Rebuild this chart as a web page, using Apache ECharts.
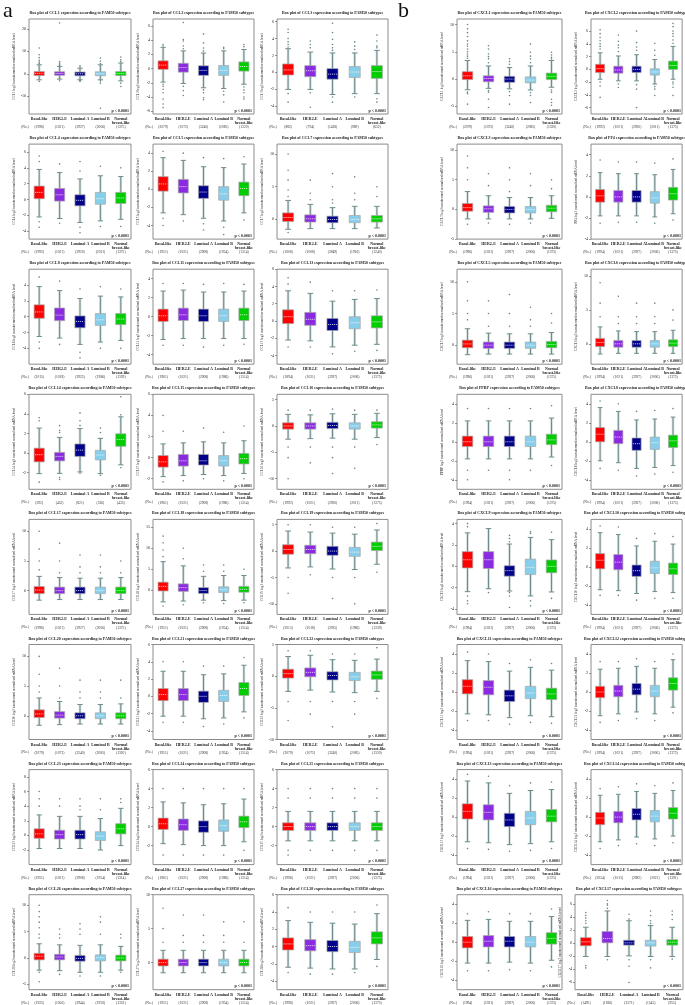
<!DOCTYPE html>
<html>
<head>
<meta charset="utf-8">
<script src="https://cdn.jsdelivr.net/npm/echarts@6/dist/echarts.min.js"></script>
<style>
  html, body { margin: 0; padding: 0; background: #fff; }
  #chart { width: 685px; height: 1005px; }
</style>
</head>
<body>
<div id="chart"></div>
<script>
// PAM50 分型
const subtypes = ['Basal-like', 'HER2-E', 'Luminal A', 'Luminal B', 'Normal\nbreast-like'];
const subtypeColors = ['#ff0000', '#8a2be2', '#00008b', '#87ceeb', '#00cd00'];

// 基因（a: 0-23, b: 24-39）
const genes = [
  'CCL1', 'CCL2', 'CCL3', 'CCL4', 'CCL5', 'CCL7', 'CCL8', 'CCL11', 'CCL13', 'CCL14', 'CCL15', 'CCL16',
  'CCL17', 'CCL18', 'CCL19', 'CCL20', 'CCL21', 'CCL22', 'CCL23', 'CCL24', 'CCL25', 'CCL26', 'CCL27', 'CCL28',
  'CXCL1', 'CXCL2', 'CXCL3', 'PF4', 'CXCL5', 'CXCL6', 'PPBP', 'CXCL8',
  'CXCL9', 'CXCL10', 'CXCL11', 'CXCL12', 'CXCL13', 'CXCL14', 'CXCL16', 'CXCL17'
];

// y 轴范围与刻度
const yRanges = [
  [-18, 24.5], [-6.4, 7], [-4.9, 6.3], [-5, 7], [-5.5, 5], [-3, 11.5], [-6, 6], [-5, 5], [-5, 6], [-3.7, 6], [-3, 6], [-12, 6],
  [-4, 12], [-5.8, 16.9], [-12, 6], [-4, 12], [-5, 6], [-10, 5], [-4, 9], [-4, 6], [-4, 6], [-6, 12], [-4, 10], [-5, 6],
  [-6.4, 11], [-7, 7.9], [-5, 11], [-4, 5], [-3, 12], [-3, 11], [-5, 5], [-5, 5],
  [-4.5, 4.4], [-5, 5], [-5, 5], [-5, 5], [-5, 5], [-5, 5], [-5, 5], [-7.2, 7.4]
];
const yTicks = [
  [-10, 0, 10, 20], [-6, -4, -2, 0, 2, 4, 6], [-4, -2, 0, 2, 4, 6], [-4, -2, 0, 2, 4, 6], [-4, -2, 0, 2, 4], [0, 5, 10],
  [-4, -2, 0, 2, 4], [-4, -2, 0, 2, 4], [-4, -2, 0, 2, 4, 6], [-2, 0, 2, 4, 6], [-2, 0, 2, 4, 6], [-10, -5, 0, 5],
  [0, 5, 10], [0, 5, 10, 15], [-10, -5, 0, 5], [0, 5, 10], [-4, -2, 0, 2, 4, 6], [-10, -5, 0, 5],
  [-2, 0, 2, 4, 6, 8], [-2, 0, 2, 4, 6], [-2, 0, 2, 4, 6], [-5, 0, 5, 10], [0, 5, 10], [-4, -2, 0, 2, 4, 6],
  [-5, 0, 5, 10], [-6, -4, -2, 0, 2, 4, 6], [-5, 0, 5, 10], [-4, -2, 0, 2, 4], [0, 5, 10], [0, 5, 10], [-4, -2, 0, 2, 4], [-4, -2, 0, 2, 4],
  [-4, -2, 0, 2, 4], [-4, -2, 0, 2, 4], [-4, -2, 0, 2, 4], [-4, -2, 0, 2, 4], [-4, -2, 0, 2, 4], [-4, -2, 0, 2, 4], [-4, -2, 0, 2, 4], [-6, -4, -2, 0, 2, 4, 6]
];

// 箱线统计 [下须, Q1, 中位数, Q3, 上须]
const boxStats = [
  [[-2.7, -0.8, 0.2, 1.0, 4], [-2.4, -0.7, 0.1, 0.9, 3.3], [-2.7, -0.9, 0, 0.8, 2.5], [-2.7, -0.9, 0, 0.9, 4], [-3.2, -0.8, 0.1, 1.0, 4.8]],
  [[-1.9, -0.1, 0.5, 1.1, 3.0], [-2.1, -0.5, 0.15, 0.75, 2.5], [-2.7, -0.95, -0.25, 0.4, 2.2], [-2.8, -0.95, -0.25, 0.45, 2.5], [-2.2, -0.35, 0.3, 0.95, 2.7]],
  [[-2.0, -0.3, 0.3, 1.0, 2.8], [-2.0, -0.5, 0.2, 0.8, 2.4], [-2.6, -0.8, -0.2, 0.45, 2.3], [-2.5, -0.6, 0.05, 0.7, 2.3], [-2.5, -0.7, 0.1, 0.8, 2.6]],
  [[-2.2, 0.1, 0.9, 1.7, 3.8], [-2.4, -0.2, 0.6, 1.4, 3.4], [-2.9, -0.8, -0.1, 0.6, 2.6], [-2.7, -0.6, 0.1, 0.9, 3.0], [-2.5, -0.5, 0.2, 0.9, 2.9]],
  [[-2.6, -0.2, 0.6, 1.4, 3.5], [-2.8, -0.4, 0.3, 1.1, 3.2], [-3.2, -1.0, -0.3, 0.4, 2.5], [-3.5, -1.2, -0.5, 0.3, 2.4], [-2.6, -0.7, 0.1, 0.8, 2.8]],
  [[-1.5, -0.3, 0.3, 1.0, 2.9], [-1.4, -0.4, 0.1, 0.7, 2.3], [-1.4, -0.5, 0, 0.5, 1.8], [-1.4, -0.5, 0, 0.6, 2.0], [-1.3, -0.4, 0.1, 0.6, 2.0]],
  [[-2.5, -0.2, 0.6, 1.5, 3.8], [-2.7, -0.5, 0.2, 1.1, 3.3], [-3.5, -1.4, -0.6, 0.1, 2.3], [-3.2, -1.1, -0.4, 0.4, 2.6], [-3.0, -1.0, -0.3, 0.4, 2.5]],
  [[-2.4, -0.5, 0.1, 0.8, 2.7], [-2.3, -0.4, 0.2, 0.9, 2.8], [-2.3, -0.5, 0.1, 0.8, 2.6], [-2.3, -0.5, 0.1, 0.8, 2.6], [-2.3, -0.4, 0.2, 0.9, 2.7]],
  [[-2.2, -0.3, 0.5, 1.3, 3.5], [-2.3, -0.5, 0.2, 1.0, 3.2], [-3.0, -1.1, -0.4, 0.3, 2.3], [-2.8, -0.9, -0.2, 0.5, 2.5], [-2.7, -0.8, -0.1, 0.6, 2.6]],
  [[-2.1, -0.9, -0.17, 0.5, 2.55], [-2.07, -0.8, -0.34, 0.07, 1.6], [-1.93, -0.34, 0.3, 0.93, 2.5], [-2.1, -0.7, -0.2, 0.28, 1.5], [-1.2, 0.69, 1.38, 1.97, 3.7]],
  [[-1.8, -0.9, -0.4, 0.2, 1.3], [-1.7, -0.8, -0.3, 0.3, 1.4], [-1.6, -0.7, -0.3, 0.3, 1.5], [-1.7, -0.8, -0.3, 0.2, 1.4], [-1.5, -0.6, -0.1, 0.4, 1.6]],
  [[-2.5, -0.6, 0, 0.6, 2.2], [-2.4, -0.6, 0, 0.6, 2.1], [-2.3, -0.5, 0.1, 0.7, 2.3], [-2.5, -0.6, 0, 0.6, 2.2], [-2.2, -0.4, 0.2, 0.8, 2.4]],
  [[-1.6, -0.5, 0.1, 0.7, 2.4], [-1.5, -0.5, 0, 0.6, 2.2], [-1.5, -0.5, 0, 0.6, 2.1], [-1.5, -0.5, 0, 0.6, 2.1], [-1.5, -0.5, 0, 0.6, 2.2]],
  [[-2.8, -0.2, 0.9, 1.9, 6.8], [-2.6, -0.3, 0.6, 1.5, 5.8], [-2.4, -0.8, -0.1, 0.6, 3.3], [-2.5, -0.6, 0.1, 0.8, 3.5], [-2.4, -0.5, 0.2, 0.9, 3.5]],
  [[-3.2, -0.6, 0.3, 1.2, 3.8], [-3.0, -0.5, 0.3, 1.1, 3.6], [-3.4, -0.8, 0, 0.9, 3.4], [-3.5, -1.0, -0.2, 0.7, 3.2], [-2.5, 0.1, 0.9, 1.7, 4.0]],
  [[-1.6, -0.3, 0.3, 1.0, 3.0], [-1.5, -0.4, 0.1, 0.7, 2.4], [-1.4, -0.5, 0, 0.5, 1.9], [-1.4, -0.5, 0, 0.5, 1.9], [-1.4, -0.5, 0, 0.5, 2.0]],
  [[-2.3, -0.5, 0.2, 0.9, 2.9], [-2.3, -0.5, 0.2, 0.9, 2.9], [-2.6, -0.7, 0, 0.6, 2.5], [-2.5, -0.6, 0.1, 0.7, 2.6], [-1.8, 0.1, 0.9, 1.6, 3.6]],
  [[-2.4, -0.3, 0.4, 1.1, 3.1], [-2.2, -0.1, 0.6, 1.3, 3.3], [-2.5, -0.6, 0.1, 0.7, 2.6], [-2.6, -0.7, -0.1, 0.6, 2.5], [-2.4, -0.5, 0.2, 0.8, 2.7]],
  [[-1.8, -0.4, 0.2, 0.9, 2.8], [-1.8, -0.5, 0.1, 0.7, 2.6], [-1.8, -0.5, 0.1, 0.7, 2.6], [-2.0, -0.7, -0.1, 0.5, 2.3], [-1.4, 0.2, 0.9, 1.6, 3.7]],
  [[-1.8, -0.3, 0.3, 0.9, 2.6], [-1.9, -0.4, 0.2, 0.8, 2.5], [-2.0, -0.6, 0, 0.6, 2.3], [-2.0, -0.5, 0.1, 0.7, 2.4], [-1.6, -0.1, 0.5, 1.1, 2.9]],
  [[-1.5, -0.4, 0, 0.4, 1.6], [-1.5, -0.4, 0, 0.4, 1.6], [-1.5, -0.4, 0, 0.4, 1.6], [-1.5, -0.4, 0, 0.4, 1.6], [-1.5, -0.4, 0, 0.4, 1.6]],
  [[-2.3, -0.35, 0.35, 0.9, 2.7], [-2.4, -0.35, 0.2, 0.7, 2.5], [-2.7, -0.6, -0.07, 0.5, 2.4], [-2.7, -0.55, 0.07, 0.6, 2.5], [-2.3, -0.55, 0, 0.55, 2.2]],
  [[-1.5, -0.5, 0, 0.5, 1.8], [-1.5, -0.5, 0, 0.5, 1.8], [-1.5, -0.5, 0, 0.5, 1.8], [-1.5, -0.5, 0, 0.5, 1.8], [-1.5, -0.5, 0, 0.5, 1.8]],
  [[-2.4, -0.4, 0.3, 1.0, 3.0], [-2.5, -0.5, 0.1, 0.8, 2.8], [-2.6, -0.6, 0, 0.7, 2.7], [-2.6, -0.7, -0.1, 0.6, 2.6], [-1.5, 0.3, 1.0, 1.7, 3.8]],
  [[-1.95, -0.1, 0.6, 1.35, 3.4], [-1.7, -0.5, 0.1, 0.6, 2.4], [-1.8, -0.6, 0, 0.5, 2.1], [-2.0, -0.7, -0.2, 0.4, 2.4], [-1.5, -0.1, 0.5, 1.1, 3.4]],
  [[-1.55, -0.5, 0.1, 0.8, 2.6], [-1.8, -0.6, -0.1, 0.5, 2.1], [-1.8, -0.5, 0, 0.5, 2.3], [-2.3, -0.9, -0.4, 0.1, 1.55], [-1.55, 0, 0.6, 1.3, 3.6]],
  [[-1.6, -0.3, 0.3, 1.0, 3.0], [-1.6, -0.5, 0.1, 0.6, 2.3], [-1.6, -0.6, 0, 0.5, 2.0], [-1.6, -0.6, 0, 0.5, 2.0], [-1.5, -0.4, 0.2, 0.7, 2.3]],
  [[-1.8, -0.5, 0.1, 0.7, 2.3], [-1.8, -0.5, 0, 0.6, 2.2], [-1.8, -0.5, 0, 0.6, 2.2], [-1.9, -0.6, -0.1, 0.5, 2.1], [-1.6, -0.3, 0.3, 0.9, 2.6]],
  [[-1.5, -0.4, 0.2, 0.8, 2.6], [-1.4, -0.5, 0, 0.5, 1.9], [-1.4, -0.5, 0, 0.5, 1.8], [-1.4, -0.5, 0, 0.5, 1.8], [-1.4, -0.4, 0.1, 0.6, 2.0]],
  [[-1.5, -0.4, 0.2, 0.8, 2.5], [-1.4, -0.5, 0, 0.5, 1.9], [-1.4, -0.5, 0, 0.5, 1.8], [-1.4, -0.5, 0, 0.5, 1.8], [-1.4, -0.4, 0.1, 0.6, 2.0]],
  [[-1.8, -0.5, 0, 0.6, 2.2], [-1.8, -0.5, 0, 0.6, 2.2], [-1.8, -0.5, 0, 0.6, 2.2], [-1.8, -0.5, 0, 0.6, 2.2], [-1.6, -0.3, 0.2, 0.8, 2.5]],
  [[-2.0, 0, 0.8, 1.5, 3.6], [-2.2, -0.2, 0.5, 1.2, 3.2], [-2.8, -0.9, -0.2, 0.4, 2.3], [-2.7, -0.8, -0.1, 0.5, 2.4], [-2.5, -0.6, 0.1, 0.7, 2.6]],
  [[-2.37, -0.15, 0.62, 1.38, 3.14], [-2.1, -0.2, 0.62, 1.38, 3.54], [-2.31, -0.92, -0.4, 0.06, 2.09], [-2.77, -0.77, -0.09, 0.68, 2.71], [-2.4, -0.6, 0, 0.6, 2.5]],
  [[-2.4, -0.2, 0.7, 1.4, 3.6], [-2.5, -0.3, 0.5, 1.3, 3.4], [-2.8, -1.0, -0.4, 0.2, 2.2], [-2.6, -0.7, -0.1, 0.6, 2.7], [-2.7, -0.8, -0.2, 0.4, 2.4]],
  [[-2.3, -0.2, 0.6, 1.3, 3.3], [-2.4, -0.3, 0.5, 1.2, 3.2], [-2.7, -1.0, -0.4, 0.2, 2.2], [-2.5, -0.7, -0.1, 0.6, 2.6], [-2.6, -0.8, -0.2, 0.4, 2.3]],
  [[-2.5, -0.6, 0, 0.6, 2.4], [-2.3, -0.5, 0.1, 0.7, 2.5], [-2.1, -0.3, 0.3, 0.9, 2.7], [-2.3, -0.5, 0.1, 0.7, 2.5], [-1.6, 0.2, 0.9, 1.5, 3.4]],
  [[-2.6, -0.2, 0.6, 1.4, 3.8], [-2.7, -0.3, 0.5, 1.3, 3.6], [-2.9, -1.0, -0.3, 0.4, 2.5], [-2.8, -0.8, -0.1, 0.6, 2.8], [-2.6, -0.5, 0.1, 0.8, 2.9]],
  [[-2.6, -0.8, -0.1, 0.5, 2.3], [-2.4, -0.6, 0, 0.6, 2.4], [-2.1, -0.3, 0.3, 0.9, 2.7], [-2.3, -0.5, 0.1, 0.7, 2.5], [-2.0, -0.2, 0.4, 1.0, 2.8]],
  [[-2.2, -0.6, 0, 0.6, 2.3], [-2.2, -0.5, 0.1, 0.7, 2.4], [-2.1, -0.5, 0.1, 0.6, 2.2], [-2.2, -0.5, 0, 0.6, 2.2], [-1.9, -0.2, 0.4, 1.0, 2.7]],
  [[-2.1, -0.45, 0.15, 0.8, 2.4], [-2.1, 0, 0.65, 1.75, 4.9], [-2.0, -0.35, 0, 0.4, 3.4], [-2.1, -0.5, 0, 0.4, 2.65], [-2.1, -0.35, 0.1, 0.5, 2.4]]
];

// 离群点
const outliers = [
  [[11.5, 8.5, 7.2, 6, 5.2, 4.6, -3.4], [22.7, 5.5, 4.8, 4.3, 3.8, -3.1], [3.6, 3.0, -3.4, -3.0], [7, 5.6, 4.6, -3.2, -4.2, -15.4], [7.5, 6.2, 5.4, -4.2, -5.7]],
  [[3.4, 3.2, -2.2, -2.5, -2.9, -3.4, -4.3, -5.0, -5.5], [6.5, 4.1, 3.9, 3.2, 2.8, -2.5, -3.1, -3.8], [4.9, 3.6, 2.9, 2.5, -3.0, -3.4, -4.1, -4.4], [3.0, 2.8, -3.2, -3.7, -4.7], [3.4, 3.1, -2.6, -3.0, -3.4, -4.0, -4.3]],
  [[5.1, 4.7, 4.0, 3.6, 3.3, 3.0, -2.5, -3.5], [3.7, 3.3, 2.9, -2.4, -4.1], [5.8, 4.7, 3.9, 3.3, 2.9, 2.6, -2.9, -3.5], [3.6, 3.1, 2.7, -2.9], [4.4, 3.7, 3.1, 2.9, -3.1, -3.5]],
  [[5.5, 4.8, -2.8, -3.5], [4.5, -3.0], [4.8, 3.6, -3.5, -4.2], [4.2, -3.4], [4.0, -3.4]],
  [[4.2, -3.2, -4], [4, -3.5], [3.5, -3.8, -4.5], [3.4, -4.2, -5], [3.6, -3.4]],
  [[10, 7.5, 6, 4.5, 3.5, -2], [6, 4, 3], [7, 5, 3, 2.5], [6.5, 4, 3], [5, 3.5]],
  [[5, -3.2, -4], [4.5, -3.5], [3.5, -4.5, -5.2], [3.8, -4], [3.5, -4]],
  [[3.5, -3], [3.5, -3], [3.4, -3.2], [3.5, -3], [3.4, -2.9]],
  [[5, 4.3, -3], [4.5, -3], [3.5, -3.8], [3.5, -3.5], [3.6, -3.4]],
  [[3.6, 3.3, -2.97], [2.8, 2.3, 2.1, -2.5, -2.7], [4.1, 3.3, 2.8, -2.07], [2.55, 2.1, -2.27], [5.75, 3.9, -1.5]],
  [[2.5, 4, -2.3], [2.5, -2.2], [2.8, -2], [2.4, -2.2], [3, -2]],
  [[3, -4, -6, -10], [3, -4, -7], [3.2, -4, -6, -9], [3, -4, -8], [3, -3.5]],
  [[10, 7, 5, 3.5], [8, 5, 3], [6, 4, 3], [6, 4, 3], [5, 3]],
  [[12.9, 11.3, 9.6, 8.0, -3.8], [10, 7.5, -3.5], [6, 4.5, -3], [6, 4.5, -3.2], [5, -3]],
  [[5, -5, -8], [5, -4.5], [4.5, -5, -9], [4.5, -5, -10], [5.2, -4]],
  [[10, 7, 5, 4], [8, 5, 3], [6, 4, 3], [6, 4, 3], [6, 3]],
  [[4, -3], [4, -3], [3.5, -3.5], [3.5, -3.2], [4.5, -2.5]],
  [[4, -4, -7], [4, -4, -6], [3.5, -4, -8], [3.5, -4, -6], [4.5, -3.5]],
  [[6, 5, 4], [5, 4], [5, 4, 3.5], [5, 3.5], [5, 4.5]],
  [[4, -3], [4, -3], [4, -3], [4, -3], [4, -2.5]],
  [[4, 3, -2.5, -3], [4, 3, -2.5], [4, 3, -2.5], [4, 3, -2.5], [4, 3, -2.5]],
  [[12.9, 10, 8.8, 7.8, 6.8, 5.75, 4.5, 3.8, -2.7, -4.5], [5.5, 4.5, 3.8, -3.1], [6.5, 5.5, 4.5, -3.4], [7.8, 6.8, 4.5, -3.4], [4.5, 3.8, -2.7]],
  [[8, 5, 3], [7, 4, 3], [7, 4, 3], [6, 4, 3], [6, 3]],
  [[4.5, -3], [4, -3.2], [4, -3.2], [4, -3], [4.8, -2.3]],
  [[10, 9.2, 8.5, 7.8, 7, 6.4, 6, 5.5, 5, 4.6, 4.2, 3.8, -2.4, -2.7, -4.6], [6.1, 5.5, 4.6, 4.1, 3.7, 3.0, -2.1, -2.4, -3.7, -5.2], [2.7, 3.2, 3.7, -2.3, -3, -4.6], [6.4, 4.9, 4.2, 3.7, 3.0, -2.5, -3, -4.3], [4.9, 4.4, 4, 3.7, -2.0, -2.4, -3.7, -4.3, -4.8]],
  [[6.2, 5.6, 5, 4.5, 4, 3.6, 3.2, -2.0, -2.6, -4.4], [5.4, 4.4, 3.8, 3.4, 2.8, -2.3, -2.85], [6, 4.2, 3.5, 3.0, -2.4, -3.1, -6], [4.1, 3.0, 2.2, -2.7, -3.1, -4.1], [7.2, 6.7, 6, 5.6, 5.2, 4.6, 4.1, -2.0, -2.3, -2.8, -4.1]],
  [[9, 7, 5, -2.5], [6, 4, -2.3], [7, 5, 3, -2.5], [6, 4, -2.3], [5, 3.5]],
  [[3.5, -2.5], [3.3, -2.4], [3.3, -2.4], [3.2, -2.5], [3.6, -2.2]],
  [[10, 7, 5, 4], [7, 5, 3], [8, 5, 3], [6, 4, 3], [5, 3.5]],
  [[9, 6, 4], [7, 4, 3], [6, 4, 3], [6, 4, 3], [5, 3.5]],
  [[3.5, -3, -4], [3.5, -3], [3.5, -3, -4], [3.5, -3], [3.8, -2.5]],
  [[4.3, -2.8], [4, -3], [3.2, -3.6], [3.3, -3.4], [3.5, -3.2]],
  [[4.0, 3.7, -2.77, -3.23, -3.5], [-2.46], [2.9, 2.6, 2.3, -2.46, -2.77, -3.85], [3.23, 3.08, -3.23, -3.7], [3.2, -3]],
  [[4.3, -3], [4.2, -3], [3, -3.5], [3.5, -3.3], [3.2, -3.3]],
  [[4.2, -3], [4, -3], [3, -3.4], [3.4, -3.2], [3, -3.3]],
  [[3.2, -3.2], [3.2, -3], [3.5, -2.8], [3.2, -3], [4, -2.2]],
  [[4.5, -3.3], [4.3, -3.4], [3.3, -3.6], [3.6, -3.5], [3.7, -3.3]],
  [[3, -3.3], [3.2, -3], [3.5, -2.8], [3.3, -3], [3.6, -2.7]],
  [[3, -3], [3.2, -3], [3, -2.9], [3, -3], [3.5, -2.6]],
  [[4.65, 4.2, 3.8, 3.4, 3.0, -3.5, -3.85], [6.5, 6.0, 5.8, 5.3, -2.6], [4.4, 3.65, -2.6, -3.6, -6.1], [4.9, 4.2, 3.4, 3.0, -2.6, -3.85], [4.9, 4.3, 3.6, -2.5]]
];

// 各亚型样本数
const counts = [
  [1996, 1021, 2927, 2006, 1375], [2079, 1072, 3240, 2085, 1320], [882, 794, 1438, 989, 652],
  [1992, 1021, 2920, 2011, 1375], [1951, 1021, 2908, 1954, 1314], [1006, 1008, 2849, 1916, 1240],
  [2015, 1018, 2925, 1986, 1339], [1961, 1021, 2908, 1986, 1314], [1894, 1021, 2927, 2006, 1375],
  [592, 452, 821, 536, 435], [1961, 1021, 2908, 1986, 1314], [1992, 1021, 2920, 2011, 1375],
  [1996, 1021, 2927, 2006, 1375], [1951, 1021, 2908, 1954, 1314], [2015, 1018, 2925, 1986, 1339],
  [2079, 1072, 3240, 2085, 1320], [1951, 1021, 2908, 1954, 1314], [2079, 1072, 3240, 2085, 1320],
  [1951, 1021, 2908, 1954, 1314], [1961, 1021, 2908, 1986, 1314], [1996, 1021, 2927, 2006, 1375],
  [1925, 1056, 2944, 1950, 1352], [1951, 1021, 2908, 1954, 1314], [1996, 1021, 2927, 2006, 1375],
  [2079, 1072, 3240, 2085, 1320], [1992, 1021, 2920, 2011, 1375], [1996, 1021, 2927, 2006, 1375], [1994, 1021, 2927, 2006, 1375],
  [1996, 1021, 2927, 2006, 1375], [1994, 1021, 2927, 2006, 1375], [1994, 1021, 2927, 2006, 1375], [1994, 1021, 2927, 2006, 1375],
  [1994, 1021, 2927, 2006, 1375], [1994, 1021, 2927, 2006, 1375], [1994, 1021, 2927, 2006, 1375], [1994, 1021, 2927, 2006, 1375],
  [1994, 1021, 2927, 2006, 1375], [2034, 1015, 2982, 2021, 1391], [1994, 1021, 2927, 2006, 1375], [1495, 1186, 2571, 1545, 955]
];

const pTexts = genes.map(() => 'p < 0.0001');

// 版面
const rowTop = r => 19 + 125.1 * r;
const frameH = 95;
const colA = [[29, 131], [153, 254], [277, 388]];
const colB = [[457, 562], [591, 683]];

function panelFrame(i) {
  if (i < 24) {
    const c = colA[i % 3];
    return { left: c[0], right: c[1], top: rowTop(Math.floor(i / 3)) };
  }
  const j = i - 24;
  const c = colB[j % 2];
  // 最后一幅 CXCL17 的纵轴更靠左
  const left = (j === 15) ? 575 : c[0];
  return { left: left, right: c[1], top: rowTop(Math.floor(j / 2)) };
}

const serif = '"Liberation Serif", "DejaVu Serif", serif';

function renderBox(params, api) {
  const k = api.value(0);
  const lo = api.coord([k, api.value(1)]);
  const q1 = api.coord([k, api.value(2)]);
  const md = api.coord([k, api.value(3)]);
  const q3 = api.coord([k, api.value(4)]);
  const hi = api.coord([k, api.value(5)]);
  const band = api.size([1, 0])[0];
  const w = band * 0.5;
  const cap = band * 0.26;
  const x = lo[0];
  const halo = { stroke: '#d3dbdb', lineWidth: 2.6 };
  const wStyle = { stroke: '#6d8c8c', lineWidth: 1 };
  return {
    type: 'group',
    children: [
      { type: 'line', shape: { x1: x, y1: hi[1], x2: x, y2: lo[1] }, style: halo },
      { type: 'line', shape: { x1: x, y1: hi[1], x2: x, y2: lo[1] }, style: wStyle },
      { type: 'line', shape: { x1: x - cap / 2, y1: hi[1], x2: x + cap / 2, y2: hi[1] }, style: wStyle },
      { type: 'line', shape: { x1: x - cap / 2, y1: lo[1], x2: x + cap / 2, y2: lo[1] }, style: wStyle },
      {
        type: 'rect',
        shape: { x: x - w / 2, y: q3[1], width: w, height: q1[1] - q3[1] },
        style: { fill: subtypeColors[k], stroke: '#a8a8a8', lineWidth: 0.7 }
      },
      {
        type: 'line',
        shape: { x1: x - w / 2 + 1, y1: md[1], x2: x + w / 2 - 1, y2: md[1] },
        style: { stroke: '#ffffff', lineWidth: 0.8, lineDash: [1.2, 0.8], opacity: 0.9 }
      }
    ]
  };
}

const grids = [], xAxes = [], yAxes = [], series = [], graphics = [];

genes.forEach((gene, i) => {
  const f = panelFrame(i);
  grids.push({
    left: f.left, top: f.top, width: f.right - f.left, height: frameH,
    show: true, borderColor: '#8c8c8c', borderWidth: 1, backgroundColor: 'transparent'
  });
  xAxes.push({
    type: 'category', gridIndex: i, data: subtypes,
    axisLine: { show: false }, axisTick: { show: false },
    axisLabel: {
      interval: 0, margin: 3,
      formatter: (v, idx) => {
        const parts = v.split('\n');
        const l2 = parts[1] ? `{n|${parts[1]}}` : '{n| }';
        return `{n|${parts[0]}}\n${l2}\n{c|(${counts[i][idx]})}`;
      },
      rich: {
        n: { fontSize: 4, lineHeight: 4, fontWeight: 'bold', fontFamily: serif, color: '#222' },
        c: { fontSize: 3.6, lineHeight: 4.6, fontFamily: serif, color: '#333' }
      }
    }
  });
  yAxes.push({
    type: 'value', gridIndex: i, min: yRanges[i][0], max: yRanges[i][1],
    splitLine: { show: false },
    axisLine: { show: false },
    axisTick: { show: true, length: 2, customValues: yTicks[i], lineStyle: { color: '#555', width: 0.6 } },
    axisLabel: { customValues: yTicks[i], fontSize: 4, margin: 3, fontFamily: serif, color: '#222' },
    name: `${gene} log2 transformed normalised mRNA level`,
    nameLocation: 'middle', nameGap: 13,
    nameTextStyle: { fontSize: 3.4, fontFamily: serif, color: '#333' }
  });
  series.push({
    type: 'custom', xAxisIndex: i, yAxisIndex: i,
    renderItem: renderBox,
    encode: { x: 0, y: [1, 2, 3, 4, 5] },
    data: boxStats[i].map((b, k) => [k].concat(b)),
    silent: true, animation: false
  });
  const pts = [];
  outliers[i].forEach((arr, k) => arr.forEach(v => pts.push([k, v])));
  series.push({
    type: 'scatter', xAxisIndex: i, yAxisIndex: i,
    data: pts, symbolSize: 1.6,
    itemStyle: { color: '#4f6f6f', opacity: 0.85 },
    silent: true, animation: false, z: 3
  });
  const cx = (f.left + f.right) / 2;
  graphics.push({
    type: 'text', x: cx, y: f.top - 6,
    style: {
      text: `Box plot of ${gene} expression according to PAM50 subtypes`,
      textAlign: 'center', textVerticalAlign: 'middle',
      font: `bold 4px ${serif}`, fill: '#222'
    }
  });
  graphics.push({
    type: 'text', x: f.right - 2, y: f.top + frameH - 3.5,
    style: { text: pTexts[i], textAlign: 'right', textVerticalAlign: 'middle', font: `bold 4px ${serif}`, fill: '#222' }
  });
  graphics.push({
    type: 'text', x: f.left - 4, y: f.top + frameH + 13,
    style: { text: '(No.)', textAlign: 'center', textVerticalAlign: 'middle', font: `3.6px ${serif}`, fill: '#333' }
  });
});

graphics.push({ type: 'text', x: 3, y: 0, style: { text: 'a', font: `22px ${serif}`, fill: '#111' } });
graphics.push({ type: 'text', x: 398, y: 0, style: { text: 'b', font: `22px ${serif}`, fill: '#111' } });

const chart = echarts.init(document.getElementById('chart'), null, { renderer: 'canvas' });
chart.setOption({
  animation: false,
  backgroundColor: '#fff',
  grid: grids, xAxis: xAxes, yAxis: yAxes,
  series: series,
  graphic: graphics
});
</script>
</body>
</html>
